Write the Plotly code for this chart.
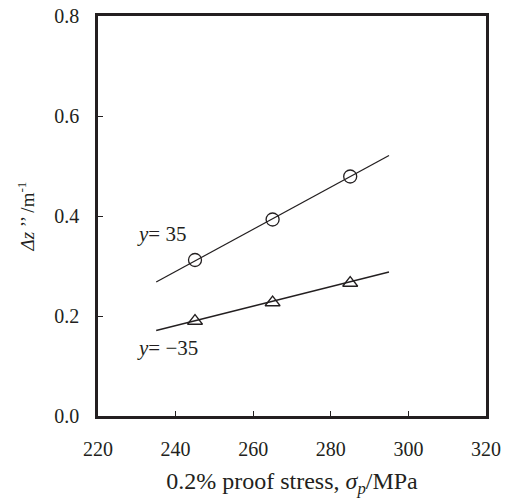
import plotly.graph_objects as go

# Data
stress = [245, 265, 285]
dz_pos35 = [0.312, 0.393, 0.479]
dz_neg35 = [0.190, 0.227, 0.266]
fit_x = [235, 295]
fit_pos35 = [0.268, 0.521]
fit_neg35 = [0.171, 0.288]

x_ticks = [220, 240, 260, 280, 300, 320]
y_ticks = [0.0, 0.2, 0.4, 0.6, 0.8]

C = "#231f20"
FONT = "Liberation Serif, Times New Roman, serif"

fig = go.Figure()
fig.add_trace(go.Scatter(x=fit_x, y=fit_pos35, mode="lines", line=dict(color=C, width=1.3), showlegend=False))
fig.add_trace(go.Scatter(x=fit_x, y=fit_neg35, mode="lines", line=dict(color=C, width=1.3), showlegend=False))
fig.add_trace(go.Scatter(x=stress, y=dz_pos35, mode="markers",
                         marker=dict(symbol="circle-open", size=13, color=C, line=dict(width=1.3)), showlegend=False))
fig.add_trace(go.Scatter(x=stress, y=dz_neg35, mode="markers",
                         marker=dict(symbol="triangle-up-open", size=13, color=C, line=dict(width=1.3)), showlegend=False))

fig.add_annotation(x=229.5, y=0.365, xref="x", yref="y", text="<i>y</i>= 35", showarrow=False,
                   xanchor="left", font=dict(family=FONT, size=21, color=C))
fig.add_annotation(x=229.5, y=0.137, xref="x", yref="y", text="<i>y</i>= \u221235", showarrow=False,
                   xanchor="left", font=dict(family=FONT, size=21, color=C))

fig.update_xaxes(range=[220, 320], tickvals=x_ticks, ticktext=[str(v) for v in x_ticks],
                 showline=True, linecolor=C, linewidth=2.5, mirror=True,
                 ticks="inside", ticklen=5, tickcolor=C, tickwidth=1,
                 showgrid=False, zeroline=False, ticklabelstandoff=13, automargin=False,
                 tickfont=dict(family=FONT, size=20, color=C),
                 title=dict(text="0.2% proof stress, <i>\u03c3<sub>p</sub></i>/MPa",
                            font=dict(family=FONT, size=24, color=C)))
fig.update_yaxes(range=[0, 0.8], tickvals=y_ticks, ticktext=[f"{v:.1f}" for v in y_ticks],
                 showline=True, linecolor=C, linewidth=2.5, mirror=True,
                 ticks="inside", ticklen=5, tickcolor=C, tickwidth=1,
                 showgrid=False, zeroline=False, ticklabelstandoff=12, automargin=False,
                 tickfont=dict(family=FONT, size=20, color=C),
                 title=dict(text="<i>\u0394z</i> \u2019\u2019 /m<sup>-1</sup>",
                            font=dict(family=FONT, size=19, color=C)))

fig.update_layout(width=507, height=498, margin=dict(l=98, r=21, t=16, b=82),
                  plot_bgcolor="white", paper_bgcolor="white")
fig.write_html("out.html")
